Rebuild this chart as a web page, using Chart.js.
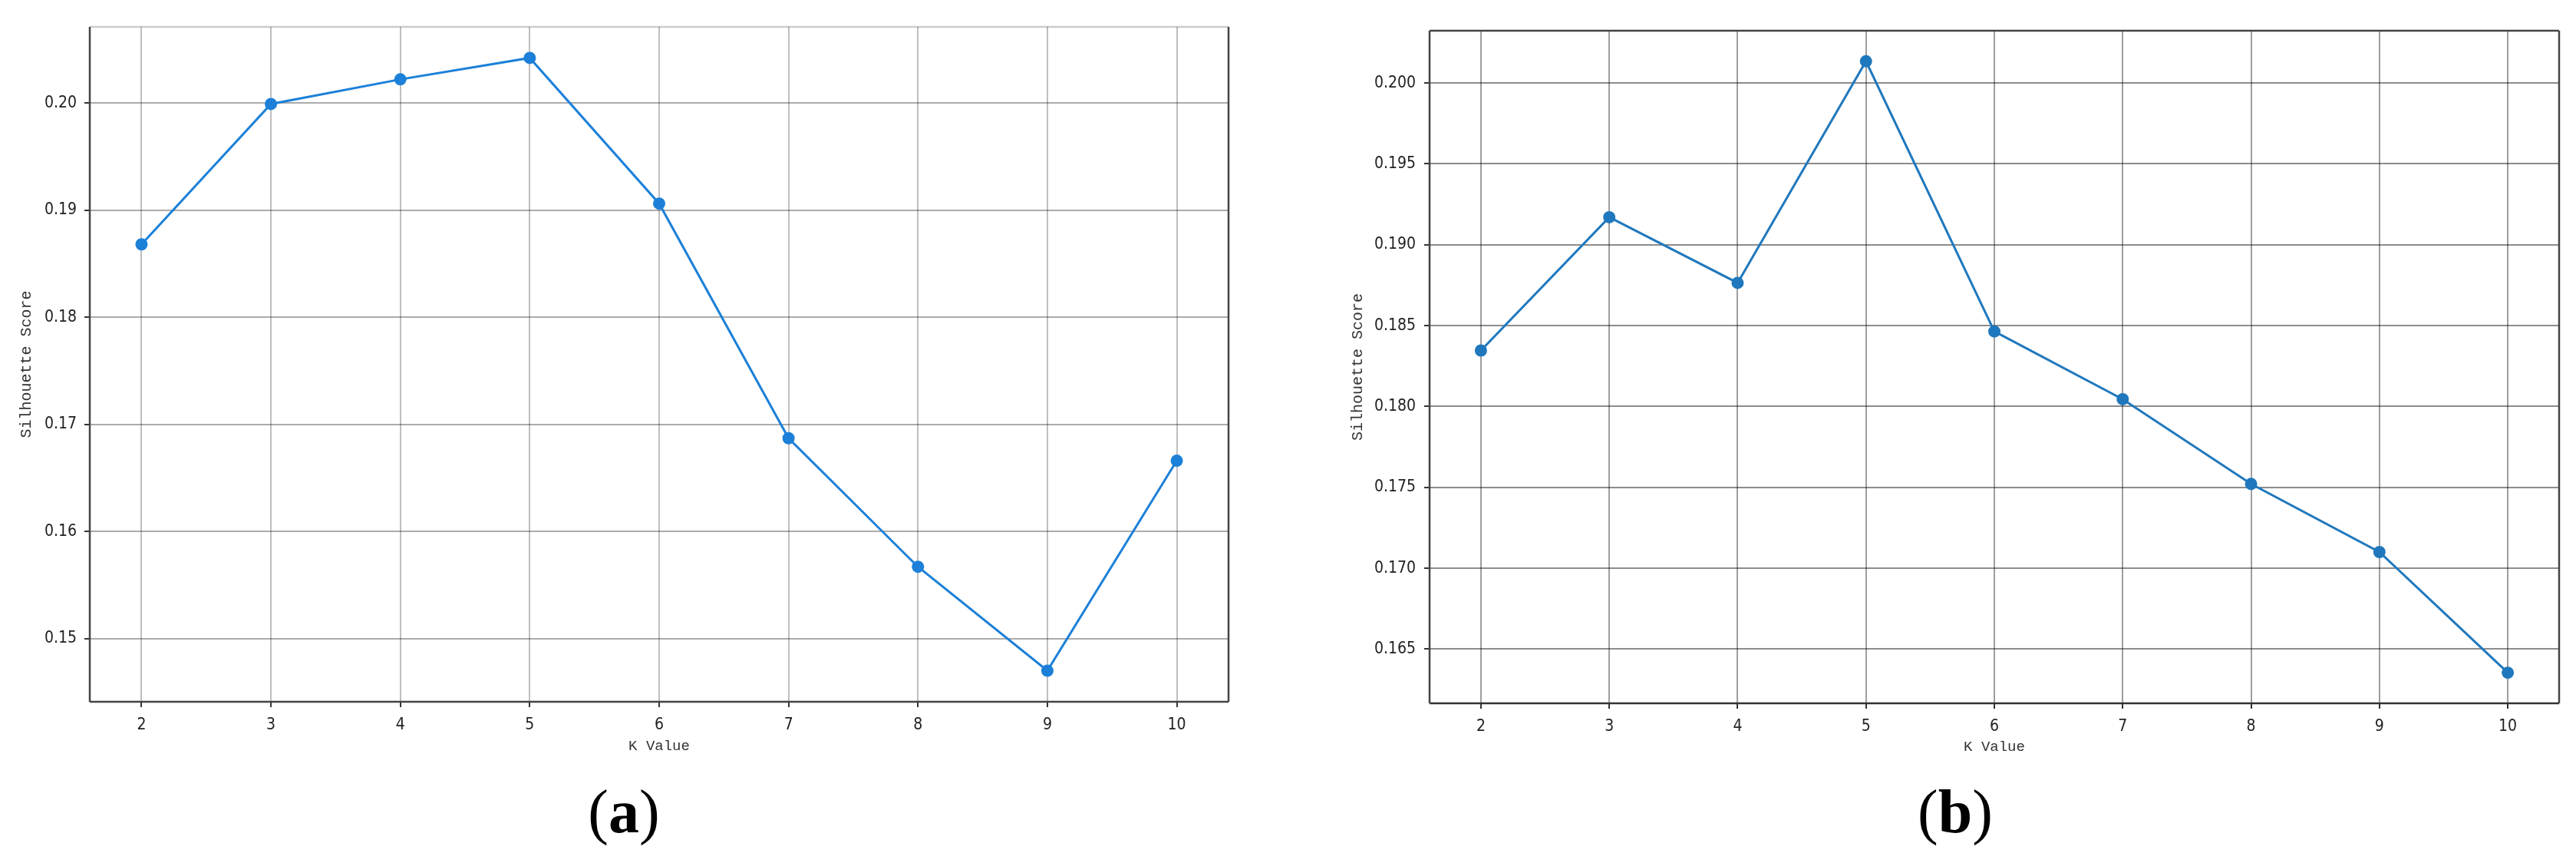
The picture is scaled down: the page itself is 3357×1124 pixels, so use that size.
<!DOCTYPE html>
<html>
<head>
<meta charset="utf-8">
<script src="https://cdn.jsdelivr.net/npm/chart.js@4"></script>
<style>
  body { margin: 0; background: #ffffff; }
  #wrap { position: relative; width: 3357px; height: 1124px; overflow: hidden; }
  canvas { position: absolute; top: 0; }
  .cap { position: absolute; top: 1017px; width: 200px; margin-left: -100px; text-align: center;
         font-family: "Liberation Serif", "DejaVu Serif", serif; font-size: 80px; line-height: 80px; color: #000; }
</style>
</head>
<body>
<div id="wrap">
  <canvas id="chartA" width="1650" height="1000" style="left:0px"></canvas>
  <canvas id="chartB" width="1607" height="1000" style="left:1750px"></canvas>
  <div class="cap" style="left:813px">(<b>a</b>)</div>
  <div class="cap" style="left:2548px">(<b>b</b>)</div>
</div>
<script>
// data
var kValues = [2, 3, 4, 5, 6, 7, 8, 9, 10];
var scoresA = [0.1868, 0.1999, 0.2022, 0.2042, 0.1906, 0.1687, 0.1567, 0.1470, 0.1666];
var scoresB = [0.18346, 0.19170, 0.18764, 0.20134, 0.18464, 0.18045, 0.17521, 0.17100, 0.16354];
var yTicksA = [0.15, 0.16, 0.17, 0.18, 0.19, 0.20];
var yTicksB = [0.165, 0.170, 0.175, 0.180, 0.185, 0.190, 0.195, 0.200];

var tickFont = { family: "'Liberation Sans Narrow', 'DejaVu Sans Condensed', 'Liberation Sans', sans-serif", size: 21 };
var titleFont = { family: "'Liberation Mono', 'DejaVu Sans Mono', monospace", size: 19 };

// draws the four spines round the plot area
var framePlugin = {
    id: 'frame',
    afterDatasetsDraw: function(chart, args, opts) {
        var a = chart.chartArea, ctx = chart.ctx;
        var sides = [
            ['top', a.left, a.top, a.right, a.top],
            ['right', a.right, a.top, a.right, a.bottom],
            ['bottom', a.left, a.bottom, a.right, a.bottom],
            ['left', a.left, a.top, a.left, a.bottom]
        ];
        ctx.save();
        ctx.lineWidth = opts.width || 2;
        sides.forEach(function(s) {
            ctx.strokeStyle = opts.colors[s[0]];
            ctx.beginPath();
            ctx.moveTo(s[1], s[2]);
            ctx.lineTo(s[3], s[4]);
            ctx.stroke();
        });
        ctx.restore();
    }
};

function makeChart(el, scores, yTicks, cfg) {
    return new Chart(el, {
        type: 'line',
        data: {
            datasets: [{
                data: kValues.map(function(k, i) { return { x: k, y: scores[i] }; }),
                borderColor: cfg.color,
                backgroundColor: cfg.color,
                borderWidth: 3,
                pointRadius: 8,
                pointBorderWidth: 0,
                tension: 0,
                fill: false
            }]
        },
        plugins: [framePlugin],
        options: {
            responsive: false,
            animation: false,
            devicePixelRatio: 1,
            layout: { padding: { top: cfg.top, right: cfg.right, bottom: 0, left: 0 } },
            plugins: {
                legend: { display: false },
                tooltip: { enabled: false },
                frame: { colors: cfg.frame, width: 2.5 }
            },
            scales: {
                x: {
                    type: 'linear',
                    min: 1.6,
                    max: 10.4,
                    afterBuildTicks: function(scale) {
                        scale.ticks = kValues.map(function(v) { return { value: v }; });
                    },
                    afterFit: function(scale) { scale.height = cfg.xHeight; },
                    border: { display: false },
                    grid: { color: cfg.vGrid, lineWidth: 2, tickLength: 7, tickColor: '#333', tickWidth: 2 },
                    ticks: { font: tickFont, color: '#222', padding: 11, maxRotation: 0,
                             callback: function(v) { return String(v); } },
                    title: { display: true, text: 'K Value', font: titleFont, color: '#333',
                             padding: { top: 0, bottom: cfg.xTitlePad } }
                },
                y: {
                    type: 'linear',
                    min: cfg.yMin,
                    max: cfg.yMax,
                    afterBuildTicks: function(scale) {
                        scale.ticks = yTicks.map(function(v) { return { value: v }; });
                    },
                    afterFit: function(scale) { scale.width = cfg.yWidth; },
                    border: { display: false },
                    grid: { color: cfg.hGrid, lineWidth: 2, tickLength: 7, tickColor: '#333', tickWidth: 2 },
                    ticks: { font: tickFont, color: '#222', padding: cfg.yTickPad,
                             callback: function(v) { return v.toFixed(cfg.decimals); } },
                    title: { display: true, text: 'Silhouette Score', font: { family: titleFont.family, size: 20 },
                             color: '#333', padding: { top: cfg.yTitlePad, bottom: 0 } }
                }
            }
        }
    });
}

var chartA = makeChart(document.getElementById('chartA'), scoresA, yTicksA, {
    color: '#1c80d8',
    top: 35, right: 49, xHeight: 86, yWidth: 117,
    yMin: 0.1441, yMax: 0.2071, decimals: 2,
    xTitlePad: 17, yTitlePad: 23, yTickPad: 10,
    vGrid: 'rgba(0,0,0,0.25)', hGrid: 'rgba(0,0,0,0.33)',
    frame: { top: 'rgba(0,0,0,0.2)', right: '#444', bottom: '#444', left: '#444' }
});

var chartB = makeChart(document.getElementById('chartB'), scoresB, yTicksB, {
    color: '#1f78bd',
    top: 40, right: 22, xHeight: 84, yWidth: 113,
    yMin: 0.16165, yMax: 0.20323, decimals: 3,
    xTitlePad: 16, yTitlePad: 8, yTickPad: 11,
    vGrid: 'rgba(0,0,0,0.38)', hGrid: 'rgba(0,0,0,0.45)',
    frame: { top: '#444', right: '#444', bottom: '#333', left: '#444' }
});
</script>
</body>
</html>
